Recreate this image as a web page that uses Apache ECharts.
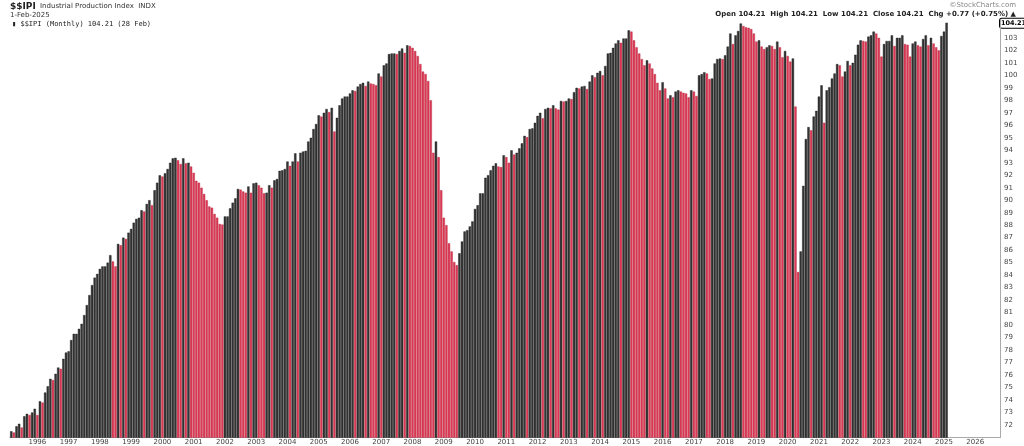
<!DOCTYPE html>
<html>
<head>
<meta charset="utf-8">
<script src="https://cdn.jsdelivr.net/npm/echarts@6/dist/echarts.min.js"></script>
<style>
  html, body { margin: 0; padding: 0; background: #fff; }
  #chart { width: 1024px; height: 446px; }
</style>
</head>
<body>
<div id="chart"></div>
<script>
// monthly values, Mar 1995 .. Feb 2025
const ipi1995to2000 = [
  71.5, 71.4, 71.9, 72.1, 71.8, 72.7, 72.9, 72.8, 73.0, 73.3, 72.8, 73.9, 73.8, 74.6, 75.1, 75.7, 75.6, 76.1, 76.6, 76.5,
  77.3, 77.8, 77.9, 78.8, 79.3, 79.3, 79.7, 80.1, 80.8, 81.6, 82.4, 83.2, 83.8, 84.1, 84.5, 84.7, 84.7, 85.0, 85.6, 85.1,
  84.7, 86.5, 86.4, 87.0, 86.9, 87.4, 87.7, 88.2, 88.5, 88.6, 89.2, 89.1, 89.7, 90.0, 89.6, 90.8, 91.4, 92.0, 91.9
];
const ipi2000to2003 = [
  92.15, 92.5, 93.0, 93.35, 93.4, 93.2, 92.9, 93.35, 92.95, 93.0, 92.7, 92.2, 91.55, 91.4, 91.0, 90.5, 90.0, 89.5, 89.4,
  88.9, 88.6, 88.1, 88.05, 88.7, 88.7, 89.35, 89.8, 90.15, 90.9, 90.85, 90.7, 90.6, 91.1, 90.6, 91.35, 91.4, 91.2, 91.0
];
const ipi2003to2006 = [
  90.55, 90.6, 91.2, 91.0, 91.6, 91.7, 92.35, 92.4, 92.5, 93.1, 92.75, 93.1, 93.75, 93.1, 93.8, 93.9, 93.95, 94.7, 95.0,
  95.7, 96.1, 96.8, 96.7, 97.0, 97.3, 97.05, 97.4, 95.5, 96.6, 97.6, 98.15, 98.3, 98.3, 98.55, 98.8, 98.75, 99.1, 99.3, 99.4
];
const ipi2006to2009 = [
  99.15, 99.5, 99.35, 99.3, 99.2, 100.15, 99.9, 100.8, 100.95, 101.7, 101.75, 101.75, 101.7, 101.95, 102.15, 101.8, 102.4,
  102.35, 102.2, 101.95, 101.55, 100.9, 100.3, 100.1, 99.55, 98.0, 93.8, 94.7, 93.45, 90.8, 88.6, 88.0, 86.55, 85.9,
  85.05, 84.8, 85.75, 86.7
];
const ipi2009to2012 = [
  87.5, 87.6, 87.9, 88.3, 89.3, 89.6, 90.55, 90.55, 91.8, 92.0, 92.4, 92.75, 92.95, 92.7, 92.65, 93.6, 93.45, 93.0, 94.0,
  93.65, 93.8, 94.15, 94.55, 95.15, 95.05, 95.7, 95.75, 96.2, 96.75, 97.0, 96.55, 97.3, 97.4, 97.35, 97.6, 97.35, 97.25,
  97.95, 97.9
];
const ipi2012to2015 = [
  97.95, 98.15, 98.1, 98.65, 99.0, 98.95, 99.1, 99.15, 98.9, 99.5, 100.0, 99.85, 100.2, 100.35, 100.0, 100.75, 101.75,
  101.8, 102.2, 102.55, 102.8, 102.6, 102.95, 102.95, 103.6, 103.5, 102.8, 102.25, 101.75, 101.3, 100.8, 101.2, 100.95,
  100.55, 100.1, 99.4, 98.8, 99.45
];
const ipi2015to2018 = [
  98.95, 98.15, 98.4, 98.25, 98.7, 98.8, 98.7, 98.6, 98.55, 98.25, 98.8, 98.7, 98.35, 100.0, 100.1, 100.25, 100.15, 99.7,
  99.75, 100.95, 101.3, 101.35, 101.3, 101.6, 102.3, 103.35, 102.5, 103.2, 103.55, 104.15, 103.95, 103.85, 103.8, 103.7,
  103.35, 102.7, 102.8, 102.3, 102.1
];
const ipi2018to2021 = [
  102.25, 102.4, 102.35, 102.1, 102.7, 102.25, 101.45, 101.95, 101.55, 101.1, 101.35, 97.5, 84.25, 85.9, 91.15, 94.9,
  95.85, 95.6, 96.7, 97.15, 98.3, 99.2, 96.2, 98.8, 99.05, 99.75, 100.15, 100.9, 100.8, 99.9, 100.3, 101.15, 100.8, 101.0,
  101.65, 102.45, 102.8, 102.75
];
const ipi2021to2025 = [
  102.7, 103.1, 103.2, 103.5, 103.35, 103.0, 101.5, 102.5, 102.75, 102.75, 103.2, 102.35, 103.0, 103.0, 103.2, 102.5,
  102.45, 101.5, 102.55, 102.7, 102.4, 102.3, 102.9, 103.2, 102.4, 103.0, 102.55, 102.25, 102.0, 103.15, 103.5, 104.21
];
const ipiValues = [].concat(ipi1995to2000, ipi2000to2003, ipi2003to2006, ipi2006to2009, ipi2009to2012,
  ipi2012to2015, ipi2015to2018, ipi2018to2021, ipi2021to2025);

const startYear = 1995, startMonth = 3;   // first bar
const totalSlots = 380;                     // axis runs on past the data into 2026
const months = [];
for (let i = 0; i < totalSlots; i++) {
  const m = startMonth - 1 + i;
  const y = startYear + Math.floor(m / 12);
  months.push(y + '-' + String(m % 12 + 1).padStart(2, '0'));
}

const upColor = '#363636', downColor = '#dd3a56';
const barData = months.map((d, i) => {
  if (i >= ipiValues.length) return '-';
  const v = ipiValues[i];
  const down = i > 0 && v < ipiValues[i - 1];
  return {
    value: v,
    itemStyle: { color: down ? downColor : upColor, borderColor: down ? '#b8283f' : '#111', borderWidth: 0.4 }
  };
});

const chart = echarts.init(document.getElementById('chart'));
const option = {
  animation: false,
  backgroundColor: '#fff',
  grid: { left: 10, right: 24, top: 20, bottom: 8.5, containLabel: false },
  xAxis: {
    type: 'category',
    data: months,
    boundaryGap: true,
    axisLine: { lineStyle: { color: '#aaa' } },
    axisTick: { show: false },
    axisLabel: {
      interval: (idx, val) => val.endsWith('-01'),
      formatter: (val) => val.slice(0, 4),
      fontSize: 7, color: '#444', margin: 1, fontFamily: 'DejaVu Sans'
    },
    splitLine: { show: false }
  },
  yAxis: {
    type: 'value',
    position: 'right',
    min: 71, max: 104.43, interval: 1,
    axisLine: { show: true, lineStyle: { color: '#aaa' } },
    axisTick: { show: false },
    axisLabel: {
      formatter: (v) => (v >= 72 && v <= 103 ? String(v) : ''),
      fontSize: 7, color: '#444', margin: 4, fontFamily: 'DejaVu Sans'
    },
    splitLine: { show: false }
  },
  series: [{
    type: 'bar',
    data: barData,
    barCategoryGap: '12%'
  }],
  graphic: [
    { type: 'text', left: 10, top: 2, style: { text: '$$IPI', font: 'bold 9px DejaVu Sans', fill: '#222' } },
    { type: 'text', left: 40, top: 3, style: { text: 'Industrial Production Index  INDX', font: '7px DejaVu Sans', fill: '#333' } },
    { type: 'text', left: 10, top: 12, style: { text: '1-Feb-2025', font: '7px DejaVu Sans', fill: '#333' } },
    { type: 'text', left: 12, top: 21, style: { text: '\u25ae $$IPI (Monthly) 104.21 (28 Feb)', font: '7px DejaVu Sans Mono', fill: '#222' } },
    { type: 'text', right: 8, top: 2, style: { text: '\u00a9StockCharts.com', font: '7px DejaVu Sans', fill: '#888' } },
    { type: 'text', right: 8, top: 11, style: { text: 'Open 104.21  High 104.21  Low 104.21  Close 104.21  Chg +0.77 (+0.75%) \u25b2', font: 'bold 7px DejaVu Sans', fill: '#222' } }
  ]
};
chart.setOption(option);

// last-price tag on the right axis
const lastVal = ipiValues[ipiValues.length - 1];
const tagY = chart.convertToPixel({ yAxisIndex: 0 }, lastVal);
chart.setOption({
  graphic: option.graphic.concat([{
    type: 'text', left: 999, top: tagY - 5,
    style: { text: lastVal.toFixed(2), font: 'bold 6.5px DejaVu Sans', fill: '#000',
      backgroundColor: '#fff', borderColor: '#000', borderWidth: 1, borderRadius: 2, padding: [1, 1] }
  }])
});
</script>
</body>
</html>
